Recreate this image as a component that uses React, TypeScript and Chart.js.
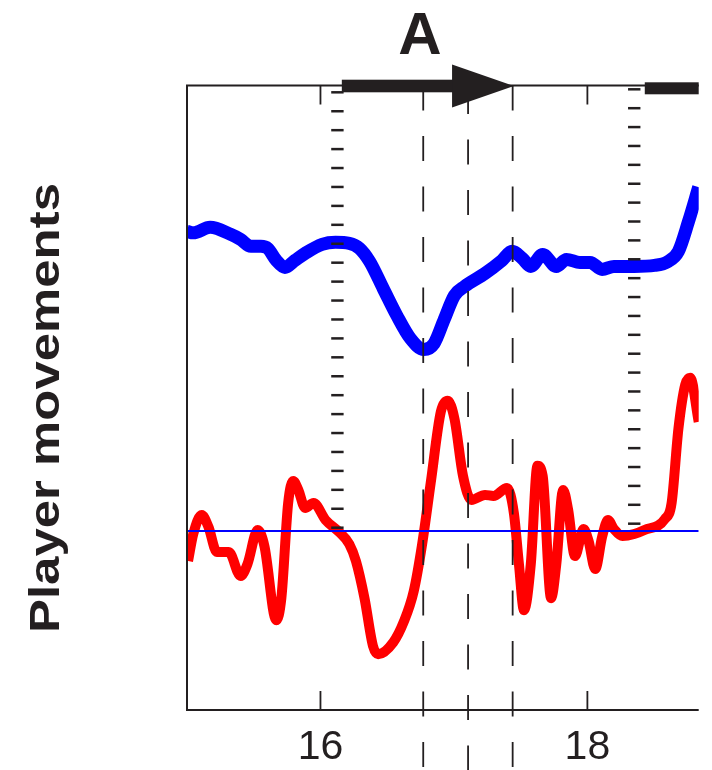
import React, { useEffect, useRef } from 'react';
import { Chart, registerables } from 'chart.js';

Chart.register(...registerables);

// ---- axis ranges & ticks ----
const xMin = 15;
const xMax = 18.834;
const yMin = -1.787;
const yMax = 4.445;
const xTickValues = [16, 18];

// ---- series: blue (upper, thick) ----
const blueX = [15.0, 15.047, 15.173, 15.326, 15.401, 15.478, 15.554, 15.605, 15.669, 15.733, 15.809, 15.885, 16.012, 16.113, 16.216, 16.292, 16.368, 16.47, 16.572, 16.674, 16.775, 16.851, 16.927, 17.004, 17.08, 17.233, 17.36, 17.436, 17.512, 17.576, 17.665, 17.767, 17.843, 17.944, 18.021, 18.11, 18.199, 18.351, 18.503, 18.605, 18.682, 18.758, 18.834];
const blueY = [2.99, 2.975, 3.03, 2.96, 2.91, 2.84, 2.84, 2.82, 2.7, 2.63, 2.7, 2.77, 2.86, 2.88, 2.87, 2.82, 2.69, 2.42, 2.15, 1.92, 1.81, 1.87, 2.11, 2.35, 2.44, 2.57, 2.7, 2.79, 2.72, 2.64, 2.76, 2.64, 2.71, 2.68, 2.68, 2.61, 2.64, 2.64, 2.65, 2.69, 2.79, 3.09, 3.43];

// ---- series: red (lower, thick) ----
const redX = [15.008, 15.047, 15.11, 15.161, 15.224, 15.313, 15.402, 15.453, 15.53, 15.58, 15.669, 15.707, 15.758, 15.796, 15.834, 15.885, 15.948, 16.038, 16.14, 16.216, 16.266, 16.33, 16.394, 16.432, 16.546, 16.623, 16.699, 16.762, 16.826, 16.902, 16.953, 17.004, 17.068, 17.131, 17.233, 17.296, 17.398, 17.449, 17.487, 17.525, 17.576, 17.626, 17.665, 17.728, 17.767, 17.818, 17.856, 17.907, 17.971, 18.009, 18.059, 18.11, 18.154, 18.199, 18.263, 18.351, 18.428, 18.581, 18.631, 18.682, 18.733, 18.77, 18.834];
const redY = [-0.3, -0.03, 0.16, 0.04, -0.21, -0.21, -0.45, -0.33, 0.01, -0.15, -0.89, -0.67, 0.28, 0.5, 0.41, 0.23, 0.28, 0.11, -0.01, -0.13, -0.3, -0.67, -1.15, -1.23, -1.11, -0.91, -0.6, -0.13, 0.48, 1.19, 1.3, 1.12, 0.55, 0.31, 0.36, 0.35, 0.43, 0.18, -0.33, -0.79, -0.33, 0.65, 0.55, -0.67, -0.33, 0.41, 0.21, -0.25, 0.02, -0.1, -0.38, -0.06, 0.11, 0.02, -0.05, -0.03, 0.01, 0.12, 0.28, 1.02, 1.46, 1.53, 1.09];

// ---- thin zero line ----
const baselineX = [15, 18.834];
const baselineY = [0, 0];

// ---- event markers ----
const dashedLineX = [16.77, 17.106, 17.44];
const dashedPhase = [0, -3.5, 0];
const dottedLineX = [16.127, 18.351];
const dottedTopY = [4.377, 4.407];
const dottedBottomY = [0.033, 0.073];
const dottedCount = [24, 24];

// ---- top arrow (start, head base, tip) and second bar ----
const arrowX = [16.16, 16.986, 17.449];
const secondBarStart = 18.43;

// ---- text ----
const panelLabel = 'A';
const panelLabelX = 16.745;
const yAxisLabel = 'Player movements';

const INK = '#231f20';
const FONT = '"Liberation Sans", Arial, Helvetica, sans-serif';

const overlayPlugin = {
  id: 'overlay',
  afterDatasetsDraw(chart: any) {
    const { ctx, chartArea: ca, scales } = chart;
    const x = scales.x;
    const y = scales.y;
    ctx.save();
    ctx.strokeStyle = INK;
    ctx.fillStyle = INK;

    // dashed vertical lines (extend below the axis)
    ctx.lineWidth = 1.8;
    dashedLineX.forEach((v, i) => {
      const px = x.getPixelForValue(v);
      ctx.setLineDash([25, 25.5]);
      ctx.lineDashOffset = dashedPhase[i];
      ctx.beginPath();
      ctx.moveTo(px, ca.top);
      ctx.lineTo(px, chart.height);
      ctx.stroke();
    });
    ctx.setLineDash([]);
    ctx.lineDashOffset = 0;

    // dotted vertical markers (short horizontal dashes)
    ctx.lineWidth = 2.5;
    dottedLineX.forEach((v, i) => {
      const px = x.getPixelForValue(v);
      const t = y.getPixelForValue(dottedTopY[i]);
      const b = y.getPixelForValue(dottedBottomY[i]);
      const n = dottedCount[i];
      for (let k = 0; k < n; k++) {
        const yy = t + ((b - t) * k) / (n - 1);
        ctx.beginPath();
        ctx.moveTo(px - 6.2, yy);
        ctx.lineTo(px + 6.2, yy);
        ctx.stroke();
      }
    });

    // axes box (left, top, bottom)
    ctx.lineWidth = 2;
    ctx.beginPath();
    ctx.moveTo(ca.right, ca.top);
    ctx.lineTo(ca.left, ca.top);
    ctx.lineTo(ca.left, ca.bottom);
    ctx.lineTo(ca.right, ca.bottom);
    ctx.stroke();

    // inward tick marks
    ctx.lineWidth = 1.8;
    xTickValues.forEach((v) => {
      const px = x.getPixelForValue(v);
      ctx.beginPath();
      ctx.moveTo(px, ca.top);
      ctx.lineTo(px, ca.top + 19);
      ctx.moveTo(px, ca.bottom);
      ctx.lineTo(px, ca.bottom - 19);
      ctx.stroke();
    });

    // arrow
    const a0 = x.getPixelForValue(arrowX[0]);
    const a1 = x.getPixelForValue(arrowX[1]);
    const a2 = x.getPixelForValue(arrowX[2]);
    const cy = ca.top + 0.5;
    ctx.fillRect(a0, cy - 6.3, a1 - a0 + 1, 12.6);
    ctx.beginPath();
    ctx.moveTo(a1, cy - 21.5);
    ctx.lineTo(a2, cy);
    ctx.lineTo(a1, cy + 21.5);
    ctx.closePath();
    ctx.fill();
    const b0 = x.getPixelForValue(secondBarStart);
    ctx.fillRect(b0, ca.top - 3.2, ca.right - b0, 12);

    // panel label
    ctx.font = `bold 60px ${FONT}`;
    ctx.textAlign = 'center';
    ctx.textBaseline = 'alphabetic';
    ctx.fillText(panelLabel, x.getPixelForValue(panelLabelX), 53.5);

    // y-axis label (rotated)
    ctx.font = `bold 42px ${FONT}`;
    const w = ctx.measureText(yAxisLabel).width;
    ctx.translate(59, 408);
    ctx.rotate(-Math.PI / 2);
    ctx.scale(450 / w, 1);
    ctx.textAlign = 'center';
    ctx.fillText(yAxisLabel, 0, 0);

    ctx.restore();
  },
};

export default function App() {
  const ref = useRef<HTMLCanvasElement>(null);

  useEffect(() => {
    const canvas = ref.current;
    if (!canvas) return;
    const toPts = (xs: number[], ys: number[]) => xs.map((v, i) => ({ x: v, y: ys[i] }));
    const chart = new Chart(canvas, {
      type: 'line',
      data: {
        datasets: [
          {
            label: 'zero',
            data: toPts(baselineX, baselineY),
            borderColor: '#0000ff',
            borderWidth: 2,
            pointRadius: 0,
            fill: false,
            order: 1,
            clip: 0,
          },
          {
            label: 'blue',
            data: toPts(blueX, blueY),
            borderColor: '#0000ff',
            borderWidth: 13,
            pointRadius: 0,
            fill: false,
            cubicInterpolationMode: 'monotone',
            borderJoinStyle: 'round',
            order: 2,
            clip: 0,
          },
          {
            label: 'red',
            data: toPts(redX, redY),
            borderColor: '#ff0000',
            borderWidth: 10,
            pointRadius: 0,
            fill: false,
            cubicInterpolationMode: 'monotone',
            borderJoinStyle: 'round',
            order: 3,
            clip: 0,
          },
        ],
      } as any,
      options: {
        responsive: false,
        animation: false,
        devicePixelRatio: 1,
        events: [],
        layout: { padding: { left: 187, right: 13.3, top: 85.5, bottom: -14.3 } },
        plugins: { legend: { display: false }, tooltip: { enabled: false } },
        scales: {
          x: {
            type: 'linear',
            min: xMin,
            max: xMax,
            position: 'bottom',
            afterBuildTicks: (axis: any) => {
              axis.ticks = xTickValues.map((v) => ({ value: v }));
            },
            grid: { display: false, drawOnChartArea: false, drawTicks: false },
            border: { display: false },
            ticks: {
              color: INK,
              padding: 16.6,
              autoSkip: false,
              maxRotation: 0,
              font: { family: FONT, size: 41, lineHeight: 1 },
            },
          },
          y: {
            type: 'linear',
            min: yMin,
            max: yMax,
            display: false,
          },
        },
      } as any,
      plugins: [overlayPlugin],
    });
    return () => chart.destroy();
  }, []);

  return (
    <div style={{ position: 'absolute', left: 0, top: 0, width: 712, height: 770, background: '#fff' }}>
      <canvas ref={ref} width={712} height={770} style={{ display: 'block', width: 712, height: 770 }} />
    </div>
  );
}
